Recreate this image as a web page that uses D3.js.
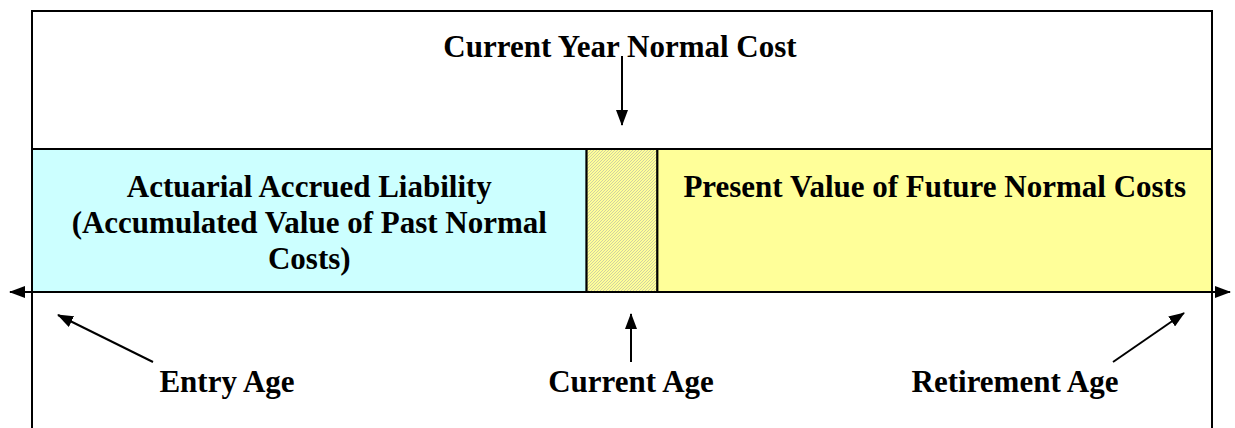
<!DOCTYPE html>
<html>
<head>
<meta charset="utf-8">
<script src="https://cdn.jsdelivr.net/npm/d3@7"></script>
<style>
  body { margin: 0; background: #fff; }
  svg text { font-family: "Liberation Serif", "Times New Roman", Times, "DejaVu Serif", serif; font-weight: bold; font-size: 31px; fill: #000; }
</style>
</head>
<body>
<div class="chart"></div>
<script>
// years since entry age (schematic)
var segNames = ["past", "current", "future"]
var segStart = [0, 18.8, 21.2]
var segEnd = [18.8, 21.2, 40]
var segColours = ["#CCFFFF", "url(#hatch)", "#FFFF99"]
var segLabels = [
    ["Actuarial Accrued Liability", "(Accumulated Value of Past Normal", "Costs)"],
    [],
    ["Present Value of Future Normal Costs"]
]
var titleText = "Current Year Normal Cost"
var ageNames = ["Entry Age", "Current Age", "Retirement Age"]
var ageValues = [0, 20, 40]

var W = 1235, H = 428
var svg = d3.select(".chart").append("svg").attr("width", W).attr("height", H)

var x = d3.scaleLinear().domain([0, 40]).range([32, 1212])
var bandTop = 149, bandBottom = 292

var defs = svg.append("defs")
var pat = defs.append("pattern").attr("id", "hatch").attr("patternUnits", "userSpaceOnUse")
    .attr("width", 3).attr("height", 3)
pat.append("rect").attr("width", 3).attr("height", 3).attr("fill", "#FFFF99")
pat.append("path").attr("d", "M-1,1 l2,-2 M0,3 l3,-3 M2,4 l2,-2")
    .attr("stroke", "#c4c4a4").attr("stroke-width", 0.8)

defs.append("marker").attr("id", "head").attr("markerUnits", "userSpaceOnUse")
    .attr("viewBox", "0 0 16 12").attr("refX", 15).attr("refY", 6)
    .attr("markerWidth", 16).attr("markerHeight", 12).attr("orient", "auto")
    .append("path").attr("d", "M0,0 L16,6 L0,12 Z").attr("fill", "#000")

// outer frame (open at the bottom)
svg.append("path")
    .attr("d", `M${x(0)},${H} V11 H${x(40)} V${H}`)
    .attr("fill", "none").attr("stroke", "#000").attr("stroke-width", 2)

// band segments
var segs = segNames.map((n, i) => ({ name: n, from: segStart[i], to: segEnd[i], colour: segColours[i], lines: segLabels[i] }))

svg.append("g").selectAll("rect").data(segs).enter().append("rect")
    .attr("x", d => x(d.from))
    .attr("y", bandTop)
    .attr("width", d => x(d.to) - x(d.from))
    .attr("height", bandBottom - bandTop)
    .attr("fill", d => d.colour)
    .attr("stroke", "#000").attr("stroke-width", 2)

segs.forEach(d => {
    var cx = (x(d.from) + x(d.to)) / 2
    d.lines.forEach((t, j) => {
        svg.append("text").attr("x", cx).attr("y", 197 + j * 36)
            .attr("text-anchor", "middle").text(t)
    })
})

// age axis with arrows both ways
svg.append("line").attr("x1", x(20)).attr("x2", 10).attr("y1", bandBottom).attr("y2", bandBottom)
    .attr("stroke", "#000").attr("stroke-width", 2).attr("marker-end", "url(#head)")
svg.append("line").attr("x1", x(20)).attr("x2", 1230).attr("y1", bandBottom).attr("y2", bandBottom)
    .attr("stroke", "#000").attr("stroke-width", 2).attr("marker-end", "url(#head)")

// title and its arrow
var midCur = x((segStart[1] + segEnd[1]) / 2)
svg.append("text").attr("x", 620).attr("y", 57).attr("text-anchor", "middle").text(titleText)
svg.append("line").attr("x1", midCur).attr("x2", midCur).attr("y1", 56).attr("y2", 125)
    .attr("stroke", "#000").attr("stroke-width", 2).attr("marker-end", "url(#head)")

// age labels with pointer arrows
var labelX = [x(0) + 195, x(20) + 9, x(40) - 197]
var arrowFrom = [[x(0) + 121, 362], [x(20) + 9, 362], [x(40) - 99, 362]]
var arrowTo = [[x(0) + 26, 315], [x(20) + 9, 314], [x(40) - 28, 313]]

svg.append("g").selectAll("text").data(ageNames).enter().append("text")
    .attr("x", (d, i) => labelX[i]).attr("y", 392)
    .attr("text-anchor", "middle").text(d => d)

svg.append("g").selectAll("line").data(ageValues).enter().append("line")
    .attr("x1", (d, i) => arrowFrom[i][0]).attr("y1", (d, i) => arrowFrom[i][1])
    .attr("x2", (d, i) => arrowTo[i][0]).attr("y2", (d, i) => arrowTo[i][1])
    .attr("stroke", "#000").attr("stroke-width", 2).attr("marker-end", "url(#head)")
</script>
</body>
</html>
